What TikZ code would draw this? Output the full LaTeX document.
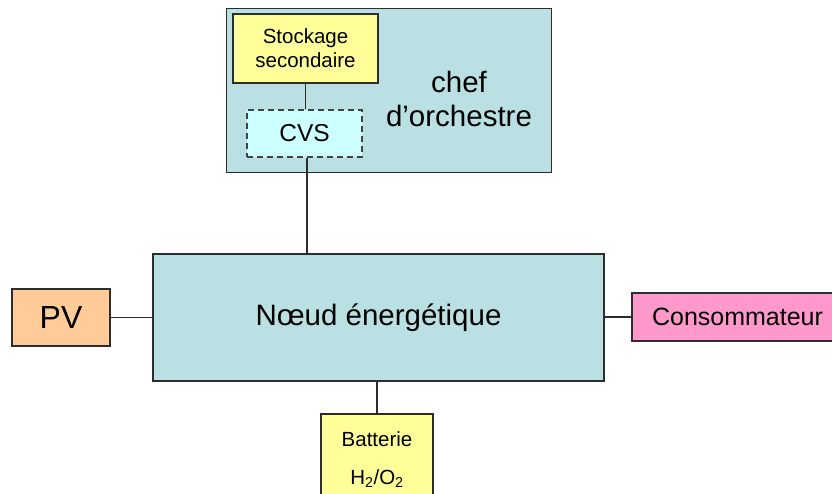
\documentclass[tikz,border=0pt]{standalone}
\usepackage{fontspec}
\setmainfont{Liberation Sans}
\definecolor{teal1}{RGB}{187,224,227}
\definecolor{yel}{RGB}{255,255,153}
\definecolor{cyan1}{RGB}{204,255,255}
\definecolor{peach}{RGB}{255,204,153}
\definecolor{pink1}{RGB}{255,153,204}
\definecolor{edge}{RGB}{45,45,45}
\tikzset{
  box/.style={draw=edge, line width=1.5pt, inner sep=0pt, align=center, text=black},
  link/.style={draw=edge, line width=1.5pt},
}
\begin{document}
\begin{tikzpicture}[x=1pt,y=-1pt]
\useasboundingbox (0,0) rectangle (832,493);
\clip (0,0) rectangle (832,493);
\node[box, fill=teal1, minimum width=325, minimum height=164] (chef) at (389,90.5) {};
\node[align=center, inner sep=0pt, font=\fontsize{29.5}{34}\selectfont] (cheft) at (459,99) {chef\\d’orchestre};
\node[box, fill=yel, minimum width=145, minimum height=69, font=\fontsize{20.5}{24}\selectfont] (stock) at (305.5,48.5) {Stockage\\secondaire};
\node[box, fill=cyan1, draw=edge!90, dash pattern=on 6pt off 4pt, minimum width=115, minimum height=47, font=\fontsize{24.5}{27}\selectfont] (cvs) at (304.5,133.5) {CVS};
\node[box, fill=teal1, minimum width=451, minimum height=127, font=\fontsize{29.5}{34}\selectfont] (noeud) at (378.5,317.5) {Nœud énergétique};
\node[box, fill=peach, minimum width=98, minimum height=57, font=\fontsize{32}{36}\selectfont] (pv) at (61,317.5) {PV};
\node[box, fill=pink1, minimum width=211, minimum height=48, font=\fontsize{25}{29}\selectfont] (cons) at (737.5,317) {Consommateur};
\node[box, fill=yel, minimum width=112, minimum height=92, font=\fontsize{20.5}{38}\selectfont] (bat) at (377,460) {Batterie\\H\textsubscript{2}/O\textsubscript{2}};
\draw[link] (stock.south) -- (stock.south |- cvs.north);
\draw[link] (cvs.south -| 307,0) -- (noeud.north -| 307,0);
\draw[link] (pv.east) -- (pv.east -| noeud.west);
\draw[link] (noeud.east |- cons.west) -- (cons.west);
\draw[link] (bat.north) -- (bat.north |- noeud.south);
\end{tikzpicture}
\end{document}
